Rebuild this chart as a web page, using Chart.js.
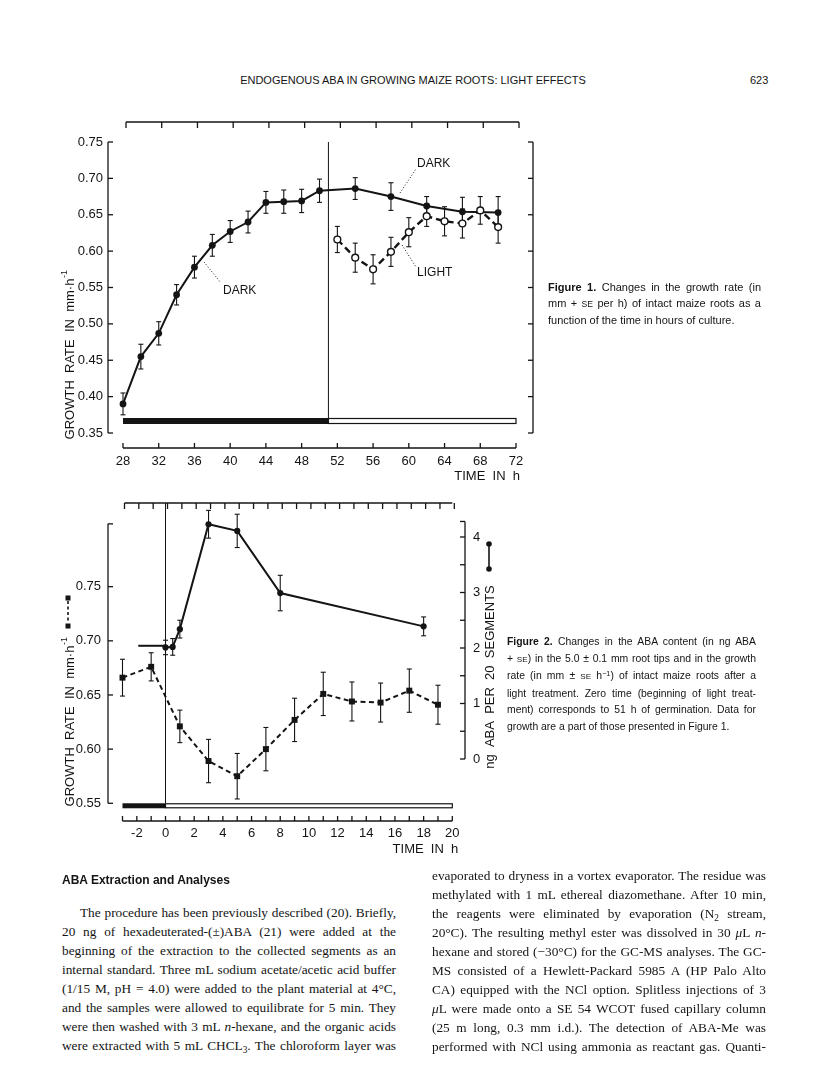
<!DOCTYPE html>
<html>
<head>
<meta charset="utf-8">
<script src="https://cdn.jsdelivr.net/npm/chart.js@4.4.3/dist/chart.umd.min.js"></script>
<style>
  html, body { margin: 0; padding: 0; background: #fff; }
  body { width: 816px; height: 1073px; position: relative; overflow: hidden; color: #141414; }
  .abs { position: absolute; }
  .sans { font-family: "Liberation Sans", Arial, sans-serif; }
  .serif { font-family: "Liberation Serif", "Times New Roman", serif; }
  sub, sup { line-height: 0; font-size: 0.7em; position: relative; vertical-align: baseline; }
  sub { top: 0.3em; }
  sup { top: -0.45em; }
  #runhead { left: 213px; width: 400px; top: 74px; text-align: center; font-size: 11px; }
  #folio { left: 750px; top: 74px; font-size: 11px; }
  .cap { line-height: 16px; }
  .cap div { text-align: justify; text-align-last: justify; white-space: nowrap; }
  .cap div.last { text-align-last: left; }
  .sc { font-size: 0.78em; }
  #cap1 { left: 548px; top: 279px; width: 213px; font-size: 11px; }
  #cap2 { left: 507px; top: 634px; width: 249px; font-size: 10.4px; line-height: 16.5px; }
  #sect { left: 62px; top: 873px; font-size: 12px; font-weight: bold; }
  .col { width: 334px; font-size: 13.3px; line-height: 19px; }
  .col div { text-align: justify; text-align-last: justify; }
  #colL { left: 62px; top: 903px; }
  #colR { left: 432px; top: 866px; }
  canvas { position: absolute; }
</style>
</head>
<body>
<div id="runhead" class="abs sans">ENDOGENOUS ABA IN GROWING MAIZE ROOTS: LIGHT EFFECTS</div>
<div id="folio" class="abs sans">623</div>

<canvas id="fig1" width="520" height="400" style="left:40px;top:100px;width:520px;height:400px"></canvas>
<div id="cap1" class="abs sans cap">
  <div><b>Figure 1.</b> Changes in the growth rate (in</div>
  <div>mm + <span class="sc">SE</span> per h) of intact maize roots as a</div>
  <div class="last">function of the time in hours of culture.</div>
</div>

<canvas id="fig2" width="480" height="385" style="left:40px;top:485px;width:480px;height:385px"></canvas>
<div id="cap2" class="abs sans cap">
  <div><b>Figure 2.</b> Changes in the ABA content (in ng ABA</div>
  <div>+ <span class="sc">SE</span>) in the 5.0 ± 0.1 mm root tips and in the growth</div>
  <div>rate (in mm ± <span class="sc">SE</span> h<sup>−1</sup>) of intact maize roots after a</div>
  <div>light treatment. Zero time (beginning of light treat-</div>
  <div>ment) corresponds to 51 h of germination. Data for</div>
  <div class="last">growth are a part of those presented in Figure 1.</div>
</div>

<div id="sect" class="abs sans">ABA Extraction and Analyses</div>
<div id="colL" class="abs serif col">
  <div style="text-indent:18px">The procedure has been previously described (20). Briefly,</div>
  <div>20 ng of hexadeuterated-(±)ABA (21) were added at the</div>
  <div>beginning of the extraction to the collected segments as an</div>
  <div>internal standard. Three mL sodium acetate/acetic acid buffer</div>
  <div>(1/15 M, pH = 4.0) were added to the plant material at 4°C,</div>
  <div>and the samples were allowed to equilibrate for 5 min. They</div>
  <div>were then washed with 3 mL <i>n</i>-hexane, and the organic acids</div>
  <div>were extracted with 5 mL CHCL<sub>3</sub>. The chloroform layer was</div>
</div>
<div id="colR" class="abs serif col">
  <div>evaporated to dryness in a vortex evaporator. The residue was</div>
  <div>methylated with 1 mL ethereal diazomethane. After 10 min,</div>
  <div>the reagents were eliminated by evaporation (N<sub>2</sub> stream,</div>
  <div>20°C). The resulting methyl ester was dissolved in 30 <i>μ</i>L <i>n</i>-</div>
  <div>hexane and stored (−30°C) for the GC-MS analyses. The GC-</div>
  <div>MS consisted of a Hewlett-Packard 5985 A (HP Palo Alto</div>
  <div>CA) equipped with the NCl option. Splitless injections of 3</div>
  <div><i>μ</i>L were made onto a SE 54 WCOT fused capillary column</div>
  <div>(25 m long, 0.3 mm i.d.). The detection of ABA-Me was</div>
  <div>performed with NCl using ammonia as reactant gas. Quanti-</div>
</div>

<script>
// Figure 1: growth rate (mm/h) vs hours of culture
const darkHours = [28, 30, 32, 34, 36, 38, 40, 42, 44, 46, 48, 50, 54, 58, 62, 66, 70];
const darkRate = [0.390, 0.455, 0.487, 0.540, 0.578, 0.608, 0.627, 0.640, 0.667, 0.668, 0.669, 0.683, 0.686, 0.675, 0.662, 0.654, 0.653];
const darkErr = [0.015, 0.017, 0.016, 0.014, 0.015, 0.015, 0.015, 0.015, 0.015, 0.016, 0.016, 0.016, 0.015, 0.019, 0.013, 0.020, 0.022];
const lightHours = [52, 54, 56, 58, 60, 62, 64, 66, 68, 70];
const lightRate = [0.616, 0.591, 0.575, 0.599, 0.626, 0.648, 0.641, 0.638, 0.656, 0.633];
const lightErr = [0.018, 0.020, 0.020, 0.020, 0.020, 0.014, 0.020, 0.020, 0.019, 0.022];
const fig1XTicks = [28, 32, 36, 40, 44, 48, 52, 56, 60, 64, 68, 72];
const fig1YTicks = [0.35, 0.40, 0.45, 0.50, 0.55, 0.60, 0.65, 0.70, 0.75];
const fig1DarkPeriod = [28, 51];
const fig1LightPeriod = [51, 72];

// Figure 2: growth rate (left) and ABA content (right) vs hours after light on
const growthHours = [-3, -1, 1, 3, 5, 7, 9, 11, 13, 15, 17, 19];
const growthRate = [0.666, 0.676, 0.621, 0.589, 0.575, 0.600, 0.627, 0.651, 0.644, 0.643, 0.654, 0.641];
const growthErr = [0.017, 0.013, 0.015, 0.020, 0.021, 0.020, 0.020, 0.020, 0.018, 0.018, 0.020, 0.018];
const abaHours = [0, 0.5, 1, 3, 5, 8, 18];
const abaContent = [2.01, 2.02, 2.34, 4.23, 4.11, 2.99, 2.39];
const abaErr = [0.13, 0.15, 0.16, 0.25, 0.30, 0.32, 0.17];
const abaBeforeHours = [-1.9, 0];
const abaBeforeContent = [2.04, 2.04];
const fig2XTicks = [-3, -2, -1, 0, 1, 2, 3, 4, 5, 6, 7, 8, 9, 10, 11, 12, 13, 14, 15, 16, 17, 18, 19, 20];
const fig2XLabels = [-2, 0, 2, 4, 6, 8, 10, 12, 14, 16, 18, 20];
const fig2LeftTicks = [0.55, 0.60, 0.65, 0.70, 0.75];
const fig2LeftTop = 0.808;
const fig2RightTicks = [0, 0.5, 1, 1.5, 2, 2.5, 3, 3.5, 4];
const fig2RightLabels = [0, 1, 2, 3, 4];
const fig2RightTop = 4.28;
const fig2DarkPeriod = [-3, 0];
const fig2LightPeriod = [0, 20];

const INK = "#141414";
const FONT = '"Liberation Sans", Arial, sans-serif';

function toPoints(xs, ys) {
  return xs.map((x, i) => ({ x, y: ys[i] }));
}

function line(ctx, x1, y1, x2, y2) {
  ctx.beginPath();
  ctx.moveTo(x1, y1);
  ctx.lineTo(x2, y2);
  ctx.stroke();
}

function text(ctx, str, x, y, align, size = 13) {
  ctx.font = `${size}px ${FONT}`;
  ctx.textAlign = align;
  ctx.textBaseline = "middle";
  ctx.fillText(str, x, y);
}

// rotated axis title with a superscript tail, centred on (cx, cy)
function rotatedTitle(ctx, main, sup, cx, cy) {
  ctx.save();
  ctx.translate(cx, cy);
  ctx.rotate(-Math.PI / 2);
  ctx.font = `13px ${FONT}`;
  const w1 = ctx.measureText(main).width;
  ctx.font = `9px ${FONT}`;
  const w2 = sup ? ctx.measureText(sup).width : 0;
  const start = -(w1 + w2) / 2;
  ctx.textAlign = "left";
  ctx.textBaseline = "middle";
  ctx.font = `13px ${FONT}`;
  ctx.fillText(main, start, 0);
  if (sup) {
    ctx.font = `9px ${FONT}`;
    ctx.fillText(sup, start + w1 + 0.5, -5);
  }
  ctx.restore();
}

const errorBars = {
  id: "errorBars",
  beforeDatasetsDraw(chart) {
    const ctx = chart.ctx;
    ctx.save();
    ctx.strokeStyle = INK;
    ctx.lineWidth = 1.1;
    chart.data.datasets.forEach((ds, i) => {
      if (!ds.err) return;
      const meta = chart.getDatasetMeta(i);
      const xs = chart.scales[meta.xAxisID];
      const ys = chart.scales[meta.yAxisID];
      ds.data.forEach((p, j) => {
        const px = xs.getPixelForValue(p.x);
        const top = ys.getPixelForValue(p.y + ds.err[j]);
        const bot = ys.getPixelForValue(p.y - ds.err[j]);
        line(ctx, px, top, px, bot);
        line(ctx, px - 2.5, top, px + 2.5, top);
        line(ctx, px - 2.5, bot, px + 2.5, bot);
      });
    });
    ctx.restore();
  },
};

function drawPeriodBar(ctx, xs, dark, light, yTop, yBot) {
  ctx.fillStyle = INK;
  const d0 = xs.getPixelForValue(dark[0]);
  const d1 = xs.getPixelForValue(dark[1]);
  ctx.fillRect(d0, yTop, d1 - d0, yBot - yTop);
  const l0 = xs.getPixelForValue(light[0]);
  const l1 = xs.getPixelForValue(light[1]);
  ctx.fillStyle = "#fff";
  ctx.fillRect(l0, yTop, l1 - l0, yBot - yTop);
  ctx.lineWidth = 1.2;
  ctx.strokeRect(l0, yTop + 0.5, l1 - l0, yBot - yTop - 1);
}

const fig1Decor = {
  id: "fig1Decor",
  beforeDatasetsDraw(chart) {
    const ctx = chart.ctx;
    const xs = chart.scales.x;
    const ys = chart.scales.y;
    const yBase = ys.getPixelForValue(fig1YTicks[0]);
    ctx.save();
    ctx.strokeStyle = INK;
    drawPeriodBar(ctx, xs, fig1DarkPeriod, fig1LightPeriod, yBase - 15, yBase - 9);
    ctx.lineWidth = 1;
    const xOn = xs.getPixelForValue(fig1LightPeriod[0]);
    line(ctx, xOn, ys.getPixelForValue(fig1YTicks[fig1YTicks.length - 1]), xOn, yBase - 15);
    ctx.restore();
  },
  afterDraw(chart) {
    const ctx = chart.ctx;
    const a = chart.chartArea;
    const xs = chart.scales.x;
    const ys = chart.scales.y;
    ctx.save();
    ctx.strokeStyle = INK;
    ctx.fillStyle = INK;
    ctx.lineWidth = 1.3;
    const yTop = ys.getPixelForValue(fig1YTicks[fig1YTicks.length - 1]);
    const yBot = ys.getPixelForValue(fig1YTicks[0]);
    line(ctx, a.left, yTop, a.left, yBot);
    line(ctx, a.right, yTop, a.right, yBot);
    fig1YTicks.forEach((v) => {
      const y = ys.getPixelForValue(v);
      line(ctx, a.left, y, a.left + 5, y);
      line(ctx, a.right, y, a.right - 5, y);
      text(ctx, v.toFixed(2), a.left - 5, y, "right");
    });
    const x0 = xs.getPixelForValue(fig1XTicks[0]);
    const x1 = xs.getPixelForValue(fig1XTicks[fig1XTicks.length - 1]);
    line(ctx, x0 + 3, a.top, x1 + 3, a.top);
    line(ctx, x0, a.bottom, x1, a.bottom);
    fig1XTicks.forEach((v) => {
      const x = xs.getPixelForValue(v);
      line(ctx, x + 3, a.top, x + 3, a.top + 6);
      line(ctx, x, a.bottom, x, a.bottom - 5);
      text(ctx, String(v), x, a.bottom + 13, "center");
    });
    text(ctx, "TIME  IN  h", x1 + 4, a.bottom + 28, "right");
    rotatedTitle(ctx, "GROWTH  RATE  IN  mm·h", "-1", 30, 255);

    // labels with dotted leaders
    const notes = [
      { label: "DARK", at: [39.2, 0.5452], from: [37.07, 0.5851], to: [38.97, 0.5562] },
      { label: "DARK", at: [60.92, 0.7198], from: [59.01, 0.6799], to: [60.8, 0.7129] },
      { label: "LIGHT", at: [60.92, 0.5699], from: [59.24, 0.6084], to: [60.8, 0.5782] },
    ];
    notes.forEach((n) => {
      ctx.save();
      ctx.lineWidth = 1;
      ctx.setLineDash([1, 2]);
      line(ctx, xs.getPixelForValue(n.from[0]), ys.getPixelForValue(n.from[1]),
        xs.getPixelForValue(n.to[0]), ys.getPixelForValue(n.to[1]));
      ctx.restore();
      text(ctx, n.label, xs.getPixelForValue(n.at[0]), ys.getPixelForValue(n.at[1]), "left", 12);
    });
    ctx.restore();
  },
};

const fig2Decor = {
  id: "fig2Decor",
  beforeDatasetsDraw(chart) {
    const ctx = chart.ctx;
    const a = chart.chartArea;
    const xs = chart.scales.x;
    const yl = chart.scales.yL;
    const yBase = yl.getPixelForValue(fig2LeftTicks[0]);
    ctx.save();
    ctx.strokeStyle = INK;
    drawPeriodBar(ctx, xs, fig2DarkPeriod, fig2LightPeriod, yBase, yBase + 5);
    ctx.lineWidth = 1;
    const xOn = xs.getPixelForValue(fig2LightPeriod[0]);
    line(ctx, xOn, a.top, xOn, yBase);
    ctx.restore();
  },
  afterDraw(chart) {
    const ctx = chart.ctx;
    const a = chart.chartArea;
    const xs = chart.scales.x;
    const yl = chart.scales.yL;
    const yr = chart.scales.yR;
    ctx.save();
    ctx.strokeStyle = INK;
    ctx.fillStyle = INK;
    ctx.lineWidth = 1.3;

    // left axis
    const lTop = yl.getPixelForValue(fig2LeftTop);
    const lBot = yl.getPixelForValue(fig2LeftTicks[0]);
    line(ctx, a.left, lTop, a.left, lBot);
    line(ctx, a.left, lTop, a.left + 5, lTop);
    fig2LeftTicks.forEach((v) => {
      const y = yl.getPixelForValue(v);
      line(ctx, a.left, y, a.left + 5, y);
      text(ctx, v.toFixed(2), a.left - 7, y, "right");
    });

    // right axis
    const rTop = yr.getPixelForValue(fig2RightTop);
    const rBot = yr.getPixelForValue(fig2RightTicks[0]);
    line(ctx, a.right, rTop, a.right, rBot);
    line(ctx, a.right, rTop, a.right - 5, rTop);
    fig2RightTicks.forEach((v) => {
      const y = yr.getPixelForValue(v);
      line(ctx, a.right, y, a.right - 5, y);
    });
    fig2RightLabels.forEach((v) => {
      text(ctx, String(v), a.right + 8, yr.getPixelForValue(v), "left");
    });

    // top and bottom time axes
    const x0 = xs.getPixelForValue(fig2XTicks[0]);
    const x1 = xs.getPixelForValue(fig2XTicks[fig2XTicks.length - 1]);
    line(ctx, x0 + 2, a.top, x1, a.top);
    line(ctx, x0, a.bottom, x1, a.bottom);
    fig2XTicks.forEach((v) => {
      const x = xs.getPixelForValue(v);
      line(ctx, x + 2, a.top, x + 2, a.top + 6);
      line(ctx, x, a.bottom, x, a.bottom - 5);
    });
    fig2XLabels.forEach((v) => {
      text(ctx, String(v), xs.getPixelForValue(v), a.bottom + 12, "center");
    });
    text(ctx, "TIME  IN  h", x1 + 6, a.bottom + 28, "right");

    rotatedTitle(ctx, "GROWTH  RATE  IN  mm·h", "-1", 30, 237);
    rotatedTitle(ctx, "ng  ABA  PER  20  SEGMENTS", "", 450, 192);

    // series keys next to each axis title
    ctx.lineWidth = 1.6;
    ctx.save();
    ctx.setLineDash([3, 2.5]);
    line(ctx, 28, 116, 28, 138);
    ctx.restore();
    ctx.fillRect(25.5, 110.5, 5, 5);
    ctx.fillRect(25.5, 138.5, 5, 5);
    line(ctx, 449, 59, 449, 84);
    [59, 84].forEach((y) => {
      ctx.beginPath();
      ctx.arc(449, y, 2.8, 0, Math.PI * 2);
      ctx.fill();
    });
    ctx.restore();
  },
};

new Chart(document.getElementById("fig1"), {
  type: "scatter",
  data: {
    datasets: [
      {
        label: "Light",
        data: toPoints(lightHours, lightRate),
        err: lightErr,
        showLine: true,
        borderColor: INK,
        borderWidth: 2.4,
        borderDash: [7, 4],
        pointRadius: 3.4,
        pointBackgroundColor: "#fff",
        pointBorderColor: INK,
        pointBorderWidth: 1.4,
      },
      {
        label: "Dark",
        data: toPoints(darkHours, darkRate),
        err: darkErr,
        showLine: true,
        borderColor: INK,
        borderWidth: 2,
        pointRadius: 3.4,
        pointBackgroundColor: INK,
        pointBorderColor: INK,
        pointBorderWidth: 0,
      },
    ],
  },
  options: {
    responsive: false,
    animation: false,
    layout: { padding: { left: 68, right: 27, top: 22, bottom: 52 } },
    scales: {
      x: { type: "linear", min: 26.321, max: 73.903, display: false },
      y: { type: "linear", min: 0.32938, max: 0.77749, display: false },
    },
    plugins: { legend: { display: false }, tooltip: { enabled: false } },
  },
  plugins: [errorBars, fig1Decor],
});

new Chart(document.getElementById("fig2"), {
  type: "scatter",
  data: {
    datasets: [
      {
        label: "ABA",
        data: toPoints(abaHours, abaContent),
        err: abaErr,
        yAxisID: "yR",
        showLine: true,
        borderColor: INK,
        borderWidth: 2,
        pointRadius: 3.1,
        pointBackgroundColor: INK,
        pointBorderWidth: 0,
      },
      {
        label: "ABA before light",
        data: toPoints(abaBeforeHours, abaBeforeContent),
        yAxisID: "yR",
        showLine: true,
        borderColor: INK,
        borderWidth: 2,
        pointRadius: 0,
      },
      {
        label: "Growth rate",
        data: toPoints(growthHours, growthRate),
        err: growthErr,
        yAxisID: "yL",
        showLine: true,
        borderColor: INK,
        borderWidth: 2,
        borderDash: [5, 3.5],
        pointStyle: "rect",
        pointRadius: 4.2,
        pointBackgroundColor: INK,
        pointBorderWidth: 0,
      },
    ],
  },
  options: {
    responsive: false,
    animation: false,
    layout: { padding: { left: 68, right: 55, top: 18, bottom: 49 } },
    scales: {
      x: { type: "linear", min: -4.0105, max: 20.885, display: false },
      yL: { type: "linear", position: "left", min: 0.53364, max: 0.82727, display: false },
      yR: { type: "linear", position: "right", min: -1.1171, max: 4.6126, display: false },
    },
    plugins: { legend: { display: false }, tooltip: { enabled: false } },
  },
  plugins: [errorBars, fig2Decor],
});
</script>
</body>
</html>
